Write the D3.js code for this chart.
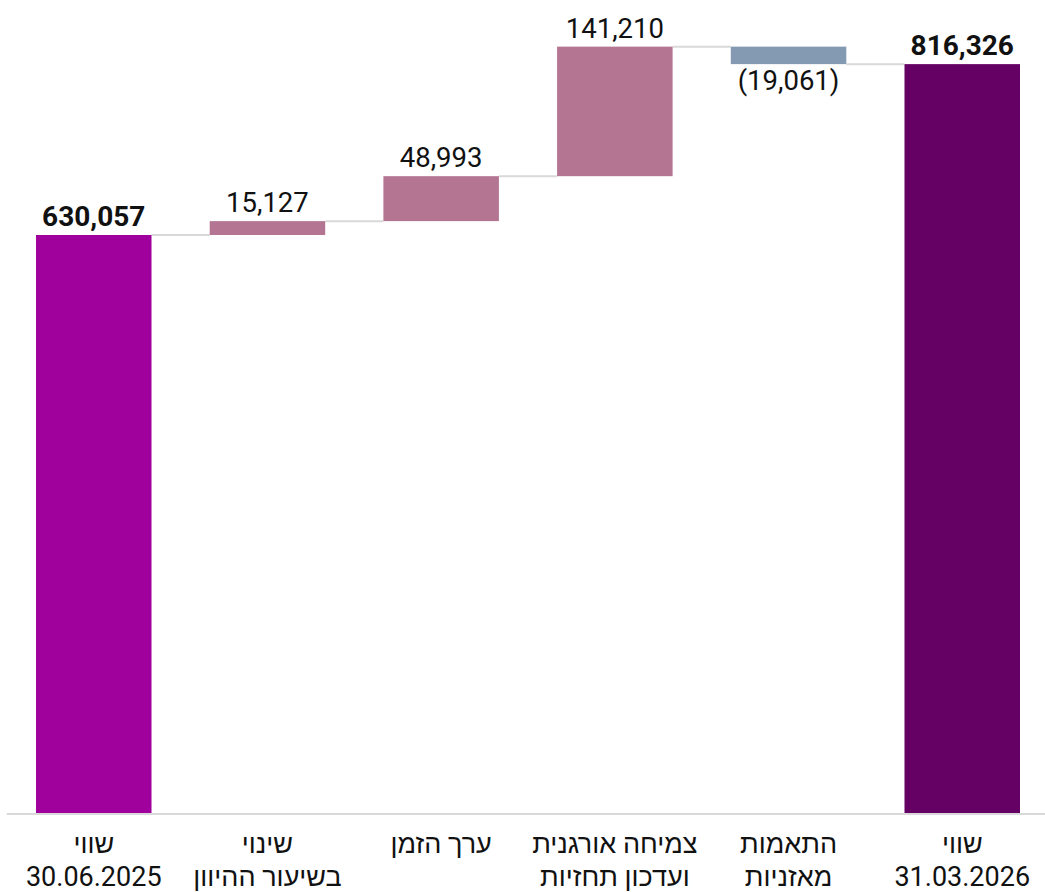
<!DOCTYPE html>
<html><head><meta charset="utf-8">
<script src="https://cdn.jsdelivr.net/npm/d3@7"></script>
<style>html,body{margin:0;padding:0;background:#fff;} svg{display:block;font-family:Roboto,"Noto Sans",sans-serif;}</style>
</head><body>
<svg id="c" width="1045" height="892"></svg>
<script>
const categories = [["שווי","30.06.2025"],["שינוי","בשיעור ההיוון"],["ערך הזמן"],["צמיחה אורגנית","ועדכון תחזיות"],["התאמות","מאזניות"],["שווי","31.03.2026"]];
const values = [630057, 15127, 48993, 141210, -19061, 816326];
const kinds = ["total","delta","delta","delta","delta","total"];
const valueLabels = ["630,057","15,127","48,993","141,210","(19,061)","816,326"];
const colors = {start:"#a0009b", up:"#b47593", down:"#8499b2", end:"#650064"};

const W = 1045, H = 892;
const svg = d3.select("#c");
const x = d3.scaleBand().domain(d3.range(categories.length)).range([6.9, 1049.1]).paddingInner(0.335).paddingOuter(0.1675);
const y = d3.scaleLinear().domain([0, 886227]).range([813, 0]);

let running = 0;
const bars = values.map((v,i)=>{
  let lo, hi, col;
  if (kinds[i]==="total") { lo=0; hi=v; running=v; col = i===0?colors.start:colors.end; }
  else { const s=running; running += v; lo=Math.min(s,running); hi=Math.max(s,running); col = v>=0?colors.up:colors.down; }
  return {i, lo, hi, end: running, v, col, kind: kinds[i]};
});

for (let i=0;i<bars.length-1;i++){
  svg.append("line").attr("x1", x(i)+x.bandwidth()).attr("x2", x(i+1))
    .attr("y1", y(bars[i].end)).attr("y2", y(bars[i].end))
    .attr("stroke","#d9d9d9").attr("stroke-width",2);
}
svg.append("line").attr("x1", x.range()[0]).attr("x2", W).attr("y1", y(0)+1).attr("y2", y(0)+1)
  .attr("stroke","#d9d9d9").attr("stroke-width",2);

svg.selectAll("rect.bar").data(bars).join("rect").attr("class","bar")
  .attr("x", d=>x(d.i)).attr("width", x.bandwidth())
  .attr("y", d=>y(d.hi)).attr("height", d=>y(d.lo)-y(d.hi))
  .attr("fill", d=>d.col);

svg.selectAll("text.val").data(bars).join("text").attr("class","val")
  .attr("x", d=>x(d.i)+x.bandwidth()/2)
  .attr("y", d=> d.v<0 ? y(d.lo)+26 : y(d.hi)-9)
  .attr("text-anchor","middle")
  .attr("font-size", d=>d.kind==="total"?28:27.5)
  .attr("font-weight", d=>d.kind==="total"?"700":"400")
  .attr("fill","#111")
  .text((d,i)=>valueLabels[i]);

const cat = svg.selectAll("text.cat").data(categories).join("text").attr("class","cat")
  .attr("text-anchor","middle").attr("font-size",27).attr("fill","#111")
  .attr("transform",(d,i)=>`translate(${x(i)+x.bandwidth()/2},0)`);
cat.selectAll("tspan").data(d=>d).join("tspan")
  .attr("x",0).attr("y",(d,j)=>853+j*33).text(d=>d);
</script>
</body></html>
